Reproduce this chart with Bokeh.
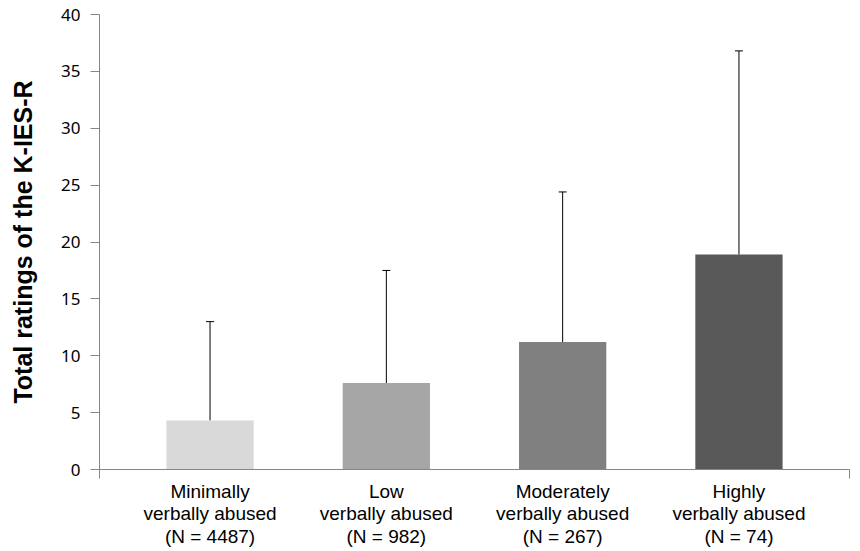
from bokeh.plotting import figure
from bokeh.models import ColumnDataSource, FixedTicker, Whisker, TeeHead, Range1d
from bokeh.embed import file_html
from bokeh.resources import INLINE

categories = ["Minimally\nverbally abused\n(N = 4487)",
              "Low\nverbally abused\n(N = 982)",
              "Moderately\nverbally abused\n(N = 267)",
              "Highly\nverbally abused\n(N = 74)"]
means = [4.3, 7.6, 11.2, 18.9]
sds = [8.7, 9.9, 13.2, 17.9]
colors = ["#d9d9d9", "#a6a6a6", "#808080", "#595959"]
y_ticks = [0, 5, 10, 15, 20, 25, 30, 35, 40]

xs = [1, 2, 3, 4]
src = ColumnDataSource(dict(x=xs, top=means, color=colors,
                            upper=[m + s for m, s in zip(means, sds)]))

p = figure(frame_width=750, frame_height=455, output_backend="svg", toolbar_location=None,
           x_range=Range1d(0.373, 4.627), y_range=Range1d(0, 40),
           min_border_left=99, min_border_right=4, min_border_top=14, min_border_bottom=70)
p.outline_line_color = None
p.xgrid.grid_line_color = None
p.ygrid.grid_line_color = None
p.background_fill_color = "white"

p.vbar(x="x", top="top", width=0.495, bottom=0, color="color", source=src, line_color=None)

w = Whisker(base="x", lower="top", upper="upper", source=src, line_color="black", line_width=1,
            upper_head=TeeHead(size=8, line_color="black", line_width=1), lower_head=None)
p.add_layout(w)

# x axis
p.xaxis.ticker = FixedTicker(ticks=xs, minor_ticks=[0.373, 4.627])
p.xaxis.major_label_overrides = {x: c for x, c in zip(xs, categories)}
p.xaxis.major_tick_line_color = None
p.xaxis.major_tick_in = 0
p.xaxis.major_tick_out = 0
p.xaxis.minor_tick_in = 0
p.xaxis.minor_tick_out = 9
p.xaxis.minor_tick_line_color = "#868686"
p.xaxis.axis_line_color = "#868686"
p.xaxis.major_label_text_font = "Liberation Sans"
p.xaxis.major_label_text_font_size = "19px"
p.xaxis.major_label_text_color = "#000000"
p.xaxis.major_label_text_line_height = 1.08
p.xaxis.major_label_standoff = 2

# y axis
p.yaxis.ticker = FixedTicker(ticks=y_ticks)
p.yaxis.minor_tick_line_color = None
p.yaxis.major_tick_in = 0
p.yaxis.major_tick_out = 9
p.yaxis.major_tick_line_color = "#868686"
p.yaxis.axis_line_color = "#868686"
p.yaxis.major_label_text_font = "Noto Sans"
p.yaxis.major_label_text_font_size = "17px"
p.yaxis.major_label_text_color = "#000000"
p.yaxis.major_label_standoff = 10
p.yaxis.axis_label = "Total ratings of the K-IES-R"
p.yaxis.axis_label_text_font = "Liberation Sans"
p.yaxis.axis_label_text_font_style = "bold"
p.yaxis.axis_label_text_font_size = "25px"
p.yaxis.axis_label_text_color = "#000000"
p.yaxis.axis_label_standoff = 21

open("out.html", "w").write(file_html(p, INLINE))
